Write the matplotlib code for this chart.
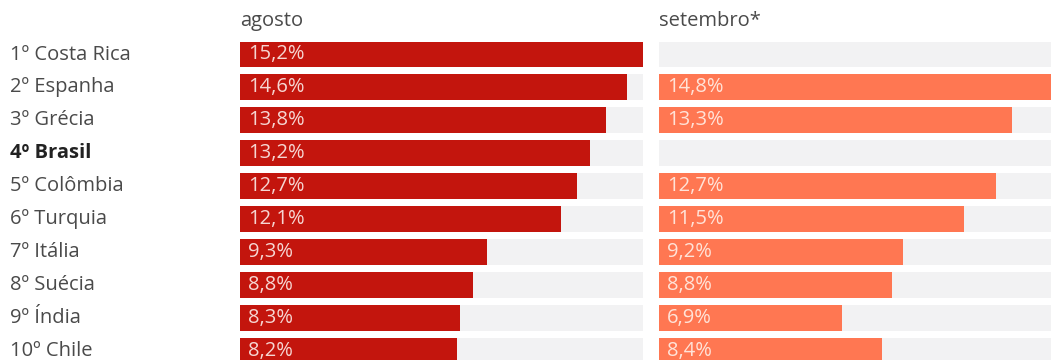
import numpy as np
import matplotlib.pyplot as plt

countries = ["1º Costa Rica", "2º Espanha", "3º Grécia", "4º Brasil", "5º Colômbia",
             "6º Turquia", "7º Itália", "8º Suécia", "9º Índia", "10º Chile"]
agosto = [15.2, 14.6, 13.8, 13.2, 12.7, 12.1, 9.3, 8.8, 8.3, 8.2]
setembro = [np.nan, 14.8, 13.3, np.nan, 12.7, 11.5, 9.2, 8.8, 6.9, 8.4]
headers = ["agosto", "setembro*"]

plt.rcParams['font.family'] = ['Open Sans', 'DejaVu Sans']

W, H = 1051, 360
fig = plt.figure(figsize=(W / 100, H / 100), dpi=100)
fig.patch.set_facecolor('white')

row0, pitch = 54.5, 32.9
y_top = -row0 / pitch
y_bot = (H - row0) / pitch
xmax = 15.2
panel_w = 403


def panel(x0, values, color, txt_color, header):
    ax = fig.add_axes([x0 / W, 0, panel_w / W, 1])
    ax.set_xlim(0, xmax)
    ax.set_ylim(y_bot, y_top)
    ax.axis('off')
    y = np.arange(len(values))
    ax.barh(y, [xmax] * len(values), height=0.79, color='#f2f2f3', left=0)
    vals = np.array(values, dtype=float)
    ok = ~np.isnan(vals)
    ax.barh(y[ok], vals[ok], height=0.79, color=color)
    for yi, v in zip(y[ok], vals[ok]):
        ax.text(0.3, yi, f"{v:.1f}%".replace('.', ','), color=txt_color,
                fontsize=14.5, va='center', ha='left')
    fig.text(x0 / W, 1 - 21 / H, header, fontsize=14.5, color='#4a4a4a',
             va='center', ha='left')
    return ax


panel(240, agosto, '#c3150d', '#f6d6d2', headers[0])
panel(659, setembro, '#ff7752', '#ffe3d8', headers[1])

for i, c in enumerate(countries):
    fig.text(10 / W, 1 - (row0 + pitch * i) / H, c, fontsize=14.5,
             color='#222222' if i == 3 else '#4a4a4a',
             fontweight='bold' if i == 3 else 'normal', va='center', ha='left')

fig.savefig('out.png', dpi=100)
